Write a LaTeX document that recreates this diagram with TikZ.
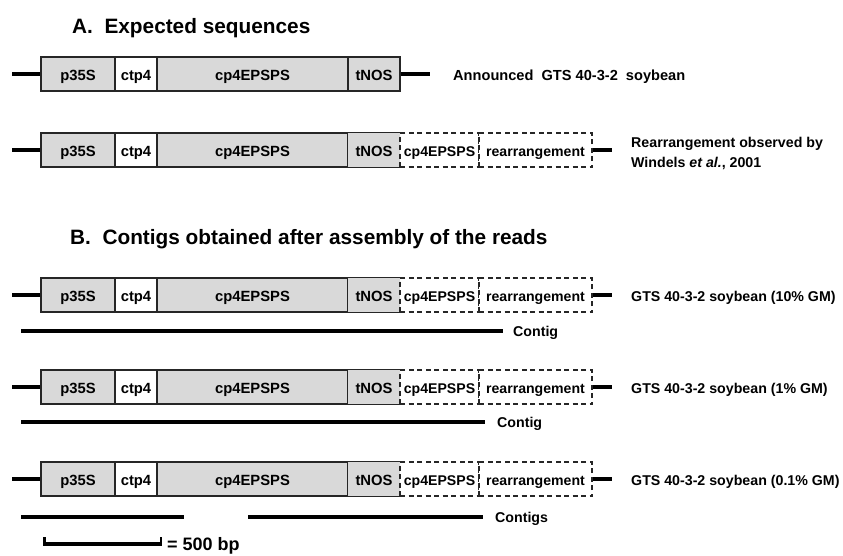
\documentclass[tikz,border=0pt]{standalone}
\usepackage{fontspec}
\setmainfont{Liberation Sans}
\begin{document}
\begin{tikzpicture}[x=1pt,y=-1pt,
  seg/.style={draw=black!85, line width=1.1pt, minimum height=34pt, inner sep=0pt, text height=12pt, text depth=0pt, font=\fontsize{14.8}{16}\selectfont\bfseries, anchor=center},
  gray/.style={seg, fill=black!15},
  white/.style={seg, fill=white},
  gfill/.style={seg, draw=none, fill=black!15},
  dseg/.style={seg, fill=white, dash pattern=on 5pt off 3.5pt, font=\fontsize{14.1}{16}\selectfont\bfseries},
  dna/.style={line width=4pt},
  contig/.style={line width=4pt},
  lab/.style={anchor=base west, inner sep=0pt, font=\fontsize{14.2}{16}\selectfont\bfseries},
  title/.style={anchor=base west, inner sep=0pt, font=\fontsize{20.8}{24}\selectfont\bfseries}
]
\useasboundingbox (0,0) rectangle (843,555);

\node[title] (tA) at (72,33) {A.\ \ Expected sequences};
\node[title] (tB) at (70,244) {B.\ \ Contigs obtained after assembly of the reads};

% Row 1
\node[gray, minimum width=74pt] (p1) at (78,74) {p35S};
\node[white, minimum width=42pt] (c1) at (136,74) {ctp4};
\node[gray, minimum width=191pt] (e1) at (252.5,74) {cp4EPSPS};
\node[gray, minimum width=52pt] (t1) at (374,74) {tNOS};
\coordinate (l1) at (12,74);
\coordinate (r1) at (430,74);
\draw[dna] (l1) -- (p1.west);
\draw[dna] (t1.east) -- (r1);
\node[lab, font=\fontsize{14.6}{16}\selectfont\bfseries] (n1) at (453,80) {Announced\ \ GTS 40-3-2\ \ soybean};

% Rows 2-5
\foreach \y/\i in {150/2,295/3,387/4,479/5}{
  \node[gray, minimum width=74pt] (p\i) at (78,\y) {p35S};
  \node[white, minimum width=42pt] (c\i) at (136,\y) {ctp4};
  \node[gray, minimum width=191pt] (e\i) at (252.5,\y) {cp4EPSPS};
  \node[gfill, minimum width=52pt] (t\i) at (374,\y) {tNOS};
  \draw[draw=black!85, line width=1.1pt] (t\i.north east) -- (t\i.north west) -- (t\i.south west) -- (t\i.south east);
  \node[dseg, minimum width=79pt] (d\i) at (439.5,\y) {cp4EPSPS};
  \node[dseg, minimum width=113pt] (r\i) at (535.5,\y) {rearrangement};
  \coordinate (ll\i) at (12,\y);
  \coordinate (rr\i) at (612,\y);
  \draw[dna] (ll\i) -- (p\i.west);
  \draw[dna] (r\i.east) -- (rr\i);
}

\node[lab] (n2a) at (631,147) {Rearrangement observed by};
\node[lab] (n2b) at (631,167) {Windels \textit{et al.}, 2001};
\node[lab] (n3) at (631,301) {GTS 40-3-2 soybean (10\% GM)};
\node[lab] (n4) at (631,393) {GTS 40-3-2 soybean (1\% GM)};
\node[lab] (n5) at (631,485) {GTS 40-3-2 soybean (0.1\% GM)};

% Contigs
\coordinate (ca1) at (21,331); \coordinate (cb1) at (503,331);
\draw[contig] (ca1) -- (cb1);
\node[lab] (cl1) at (513,336) {Contig};
\coordinate (ca2) at (21,422); \coordinate (cb2) at (485,422);
\draw[contig] (ca2) -- (cb2);
\node[lab] (cl2) at (497,427) {Contig};
\coordinate (ca3) at (21,517); \coordinate (cb3) at (184,517);
\draw[contig] (ca3) -- (cb3);
\coordinate (ca4) at (248,517); \coordinate (cb4) at (483,517);
\draw[contig] (ca4) -- (cb4);
\node[lab] (cl3) at (495,522) {Contigs};

% Scale bar
\coordinate (sa) at (43,544); \coordinate (sb) at (162,544);
\draw[line width=3.5pt] (sa) -- (sb);
\draw[line width=2.5pt] ([xshift=1.25pt]sa) -- ++(0,-7);
\draw[line width=2.5pt] ([xshift=-1.25pt]sb) -- ++(0,-7);
\node[lab, font=\fontsize{18}{20}\selectfont\bfseries] (sl) at (167,550) {= 500 bp};
\end{tikzpicture}
\end{document}
